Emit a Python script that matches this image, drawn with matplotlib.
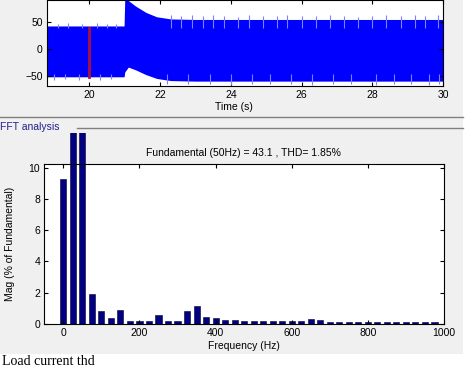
import matplotlib.pyplot as plt
import numpy as np
from matplotlib.transforms import Bbox, TransformedBbox
from matplotlib.patches import Rectangle
from matplotlib.lines import Line2D

# envolvente de la senal de corriente
t_env = [18.8, 19.5, 20.5, 20.98, 21.0, 21.1, 21.3, 21.6, 21.9, 22.3, 23.0, 24.0, 26.0, 28.0, 30.0]
env_sup = [43, 43, 43, 43, 95, 90, 80, 68, 60, 56, 55, 55, 55, 55, 55]
env_inf = [-51, -51, -51, -51, -42, -33, -38, -47, -54, -58, -59, -59, -59, -59, -59]

# picos sueltos (color lila) arriba y abajo
pico_sup_t = [19.1, 19.4, 19.8, 20.2, 20.5, 20.75, 22.3, 22.6, 22.9, 23.2, 23.5, 23.8, 24.2, 24.5,
              24.9, 25.3, 25.6, 26.0, 26.4, 26.8, 27.2, 27.6, 28.0, 28.4, 28.8, 29.2, 29.5, 29.85]
pico_sup_v = [47, 48, 46, 48, 47, 46, 63, 62, 64, 61, 63, 62, 60, 63,
              62, 61, 63, 62, 61, 63, 62, 60, 62, 63, 61, 64, 62, 63]
pico_inf_t = [19.0, 19.3, 19.7, 20.3, 20.6, 22.2, 22.8, 23.4, 24.0, 24.6, 25.1, 25.7, 26.3,
              26.9, 27.4, 28.1, 28.6, 29.1, 29.6, 29.9]
pico_inf_v = [-56, -55, -57, -56, -55, -64, -65, -64, -66, -65, -64, -65, -66,
              -64, -65, -66, -65, -64, -66, -65]

# espectro FFT (% de la fundamental)
frecuencias = np.arange(0, 1000, 25)
magnitudes = [9.3, 14.0, 100.0, 1.9, 0.83, 0.38, 0.9, 0.2, 0.2, 0.2,
              0.58, 0.2, 0.2, 0.83, 1.17, 0.45, 0.36, 0.26, 0.26, 0.22,
              0.22, 0.22, 0.22, 0.22, 0.22, 0.22, 0.3, 0.24, 0.12, 0.12,
              0.12, 0.12, 0.12, 0.12, 0.12, 0.12, 0.12, 0.12, 0.12, 0.12]

gris = '#f0f0f0'
fig = plt.figure(figsize=(4.67, 3.70), dpi=100, facecolor=gris)
plt.rcParams['font.family'] = 'Liberation Sans'

# ---- grafica superior: senal en el tiempo
ax1 = fig.add_axes([47/467, 1 - 86/370, 396/467, 86/370])
ax1.fill_between(t_env, env_inf, env_sup, color='#0000ff', lw=0)
ax1.vlines(pico_sup_t, [40]*len(pico_sup_t), pico_sup_v, color='#8080ff', lw=0.8)
ax1.vlines(pico_inf_t, pico_inf_v, [-45]*len(pico_inf_t), color='#8080ff', lw=0.8)
ax1.plot([20, 20], [-51, 40], color='#b01040', lw=2)
ax1.set_xlim(18.8, 30)
ax1.set_ylim(-68, 91)
ax1.set_xticks(range(20, 31, 2))
ax1.set_yticks([-50, 0, 50])
ax1.tick_params(direction='in', top=True, right=True, labelsize=7.5, length=3, pad=3)
ax1.text(0.5, 0.711, 'Time (s)', transform=fig.transFigure, ha='center', va='center', fontsize=7.5)

# ---- grafica inferior: FFT
ax2 = fig.add_axes([44.3/467, 46/370, 399.7/467, 160/370])
barras = ax2.bar(frecuencias, magnitudes, width=16, color='#000080', edgecolor='#000030', lw=0.4)
caja = TransformedBbox(Bbox.from_extents(0, 0, 1, 1 - 133/370), fig.transFigure)
for b in barras:
    b.set_clip_path(None)
    b.set_clip_box(caja)
ax2.set_xlim(-50, 1000)
ax2.set_ylim(0, 10.23)
ax2.set_xticks(range(0, 1001, 200))
ax2.set_yticks(range(0, 11, 2))
ax2.tick_params(direction='in', top=True, right=True, labelsize=7.5, length=3, pad=3)
ax2.set_xlabel('Frequency (Hz)', fontsize=7.5, labelpad=2)
fig.text(10/467, 0.5 - (244-185)/370, 'Mag (% of Fundamental)', rotation=90,
         ha='center', va='center', fontsize=7.5)
fig.text(243/467, 1 - 152.7/370, 'Fundamental (50Hz) = 43.1 , THD= 1.85%',
         ha='center', va='center', fontsize=7.5)

# panel "FFT analysis"
fig.add_artist(Line2D([0, 463/467], [1 - 116.5/370]*2, color='#808080', lw=1))
fig.add_artist(Line2D([77/467, 463/467], [1 - 128/370]*2, color='#808080', lw=1))
fig.text(0, 1 - 127/370, 'FFT analysis', color='#202090', fontsize=7.5, ha='left', va='center')

# bordes blancos de la captura
fig.add_artist(Rectangle((463/467, 0), 4/467, 1, transform=fig.transFigure, color='white', lw=0))
fig.add_artist(Rectangle((0, 0), 1, 16/370, transform=fig.transFigure, color='white', lw=0))
fig.text(2/467, 2/370, 'Load current thd', family='Liberation Serif', fontsize=10, va='bottom', ha='left')

plt.savefig('out.png', dpi=100, facecolor=gris)
